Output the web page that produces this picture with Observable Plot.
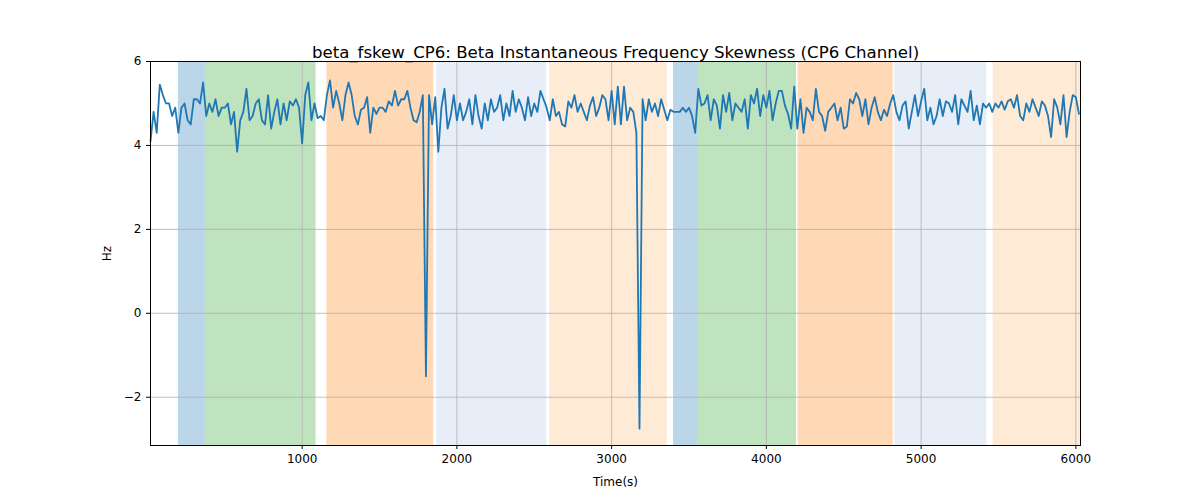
<!DOCTYPE html>
<html><head><meta charset="utf-8">
<script src="https://cdn.jsdelivr.net/npm/d3@7"></script>
<script src="https://cdn.jsdelivr.net/npm/@observablehq/plot@0.6"></script>
<style>body{margin:0;background:#fff;font-family:"DejaVu Sans",sans-serif}</style>
</head><body><div id="chart"></div>
<script>
const t0 = 20, step = 20;
const values = [
4.1,4.8,4.3,5.45,5.2,5.0,5.0,4.7,4.9,4.3,
4.9,5.0,4.6,4.5,5.1,5.1,5.0,5.5,4.7,5.0,
4.8,5.1,4.7,4.9,4.9,5.0,4.5,4.8,3.85,4.6,
4.8,5.35,4.6,4.7,5.0,5.1,4.6,4.5,5.2,4.4,
4.8,5.1,4.5,5.0,4.6,5.05,4.95,5.1,4.9,4.05,
5.2,5.5,4.6,5.0,4.65,4.7,4.6,5.2,5.55,4.9,
5.3,5.0,4.6,5.2,5.5,5.2,4.7,4.5,4.85,4.9,
5.15,4.3,4.9,4.75,4.9,4.9,4.8,5.05,4.95,5.3,
4.95,5.1,5.1,5.3,4.9,4.6,4.55,4.8,5.2,-1.5,
5.2,4.5,5.15,3.85,4.9,5.35,4.4,4.7,5.2,4.6,
5.0,4.6,4.8,5.1,4.5,5.2,4.7,4.4,5.0,4.6,
5.1,4.8,4.9,5.2,4.6,5.0,4.7,5.3,4.8,5.1,
4.9,4.6,5.15,4.7,5.0,4.8,5.3,5.1,4.9,4.6,
5.1,4.7,4.8,4.5,4.45,5.05,4.9,5.2,4.8,5.0,
4.8,4.6,4.95,5.15,4.7,4.9,5.2,5.1,4.6,5.3,
4.5,5.4,4.5,5.4,4.6,4.9,4.8,4.3,-2.75,5.1,
4.6,5.1,4.8,5.0,4.7,5.1,4.85,4.6,4.85,4.8,
4.8,4.8,4.9,4.8,4.9,4.7,4.3,5.35,4.95,5.0,
5.2,4.6,5.1,4.95,4.4,5.2,4.8,5.25,4.6,5.0,
4.9,4.8,5.1,4.4,5.2,5.0,5.35,4.7,5.2,4.9,
5.3,4.6,5.0,5.3,5.3,4.95,4.75,4.4,5.4,4.4,
5.1,4.3,4.9,4.8,4.6,5.35,4.8,4.7,4.35,4.8,
4.9,5.0,4.6,4.9,4.4,4.45,5.1,5.0,5.25,5.1,
4.7,5.1,4.5,4.9,5.15,4.8,4.6,4.85,4.7,5.0,
5.2,4.8,4.6,4.95,5.05,4.4,4.8,5.2,4.7,5.05,
5.35,4.6,4.9,4.5,4.7,5.1,4.7,5.05,5.0,4.8,
5.2,4.5,5.1,4.95,4.8,5.3,4.6,4.95,4.5,5.0,
4.9,5.0,4.8,5.0,4.9,5.05,4.85,5.05,5.1,4.9,
5.2,4.7,4.6,5.0,4.8,5.1,4.9,4.7,5.05,4.95,
4.7,4.2,5.1,4.9,4.5,5.2,4.2,4.8,5.2,5.15,4.75
];
const bandStart = [200,374,1160,1870,2600,3400,3555,4205,4830,5465];
const bandEnd   = [374,1090,1850,2580,3360,3555,4195,4820,5425,6030];
const bandColor = ["#1f77b4","#2ca02c","#ff7f0e","#aec7e8","#ffbb78","#1f77b4","#2ca02c","#ff7f0e","#aec7e8","#ffbb78"];
const yTicks = [-2,0,2,4,6];
const xTicks = [1000,2000,3000,4000,5000,6000];

const series = values.map((v,i)=>({t:t0+i*step, v}));
const bands = bandStart.map((s,i)=>({x1:s, x2:bandEnd[i], c:bandColor[i]}));

const chart = Plot.plot({
  width:1200, height:500,
  marginTop:61, marginBottom:55, marginLeft:150, marginRight:120,
  style:{fontFamily:"DejaVu Sans", fontSize:"12px", background:"#fff"},
  x:{domain:[20,6030], ticks:xTicks, tickFormat:d=>String(d), label:"Time(s)", labelAnchor:"center", labelArrow:"none", labelOffset:40, tickSize:4},
  y:{domain:[-3.15,6], ticks:yTicks, label:"Hz", labelAnchor:"center", labelArrow:"none", labelOffset:48, tickSize:4},
  marks:[
    Plot.rectX(bands,{x1:"x1",x2:"x2",y1:-3.15,y2:6,fill:"c",fillOpacity:0.3}),
    Plot.gridX(xTicks,{stroke:"#b0b0b0",strokeOpacity:1,strokeWidth:0.8}),
    Plot.gridY(yTicks,{stroke:"#b0b0b0",strokeOpacity:1,strokeWidth:0.8}),
    Plot.line(series,{x:"t",y:"v",stroke:"#1f77b4",strokeWidth:1.8}),
    Plot.frame({stroke:"#000"}),
    Plot.text(["beta_fskew_CP6: Beta Instantaneous Frequency Skewness (CP6 Channel)"],{frameAnchor:"top",dy:-15,fontSize:16.6,fill:"#000"})
  ]
});
document.getElementById("chart").append(chart);
</script></body></html>
